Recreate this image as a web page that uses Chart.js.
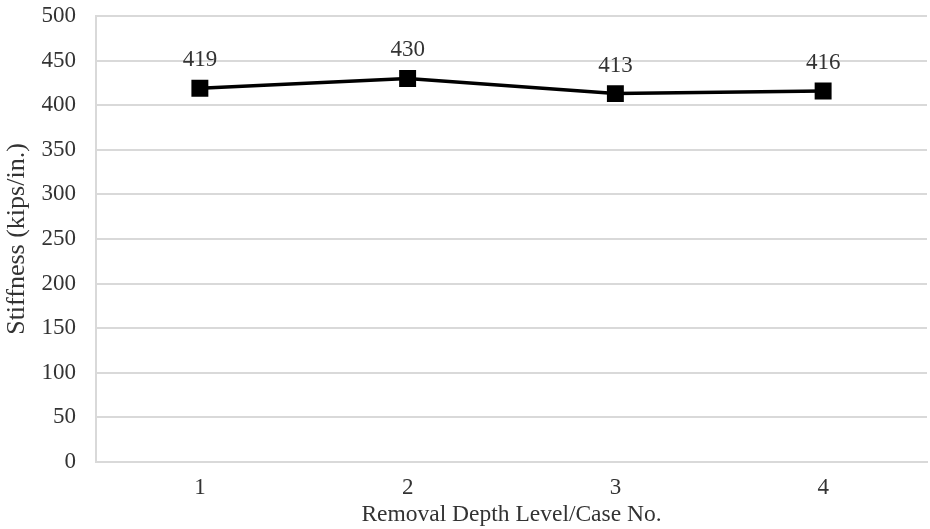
<!DOCTYPE html>
<html><head><meta charset="utf-8">
<script src="https://cdn.jsdelivr.net/npm/chart.js@4/dist/chart.umd.min.js"></script>
<style>html,body{margin:0;padding:0;background:#fff;}#wrap{width:930px;height:529px;}</style>
</head><body><div id="wrap"><canvas id="c"></canvas></div>
<script>
const categories = ['1', '2', '3', '4'];
const stiffness = [419, 430, 413, 416];
const yTicks = [0, 50, 100, 150, 200, 250, 300, 350, 400, 450, 500];

const FONT = "'Liberation Serif', 'Times New Roman', serif";
const TXT = '#333333';

const labelPlugin = {
  id: 'pointLabels',
  afterDatasetsDraw(chart) {
    const ctx = chart.ctx;
    const meta = chart.getDatasetMeta(0);
    ctx.save();
    ctx.font = "23px " + FONT;
    ctx.fillStyle = TXT;
    ctx.textAlign = 'center';
    ctx.textBaseline = 'alphabetic';
    meta.data.forEach((pt, i) => {
      ctx.fillText(String(stiffness[i]), pt.x, pt.y - 22);
    });
    ctx.restore();
  }
};

new Chart(document.getElementById('c'), {
  type: 'line',
  data: {
    labels: categories,
    datasets: [{
      data: stiffness,
      borderColor: '#000',
      backgroundColor: '#000',
      borderWidth: 3.5,
      pointStyle: 'rect',
      pointRadius: 9.5,
      pointHoverRadius: 9.5,
      pointBackgroundColor: '#000',
      pointBorderColor: '#000',
      tension: 0,
      clip: false
    }]
  },
  options: {
    responsive: true,
    maintainAspectRatio: false,
    animation: false,
    devicePixelRatio: 1,
    layout: { autoPadding: false, padding: { left: 2, right: 3, top: 16, bottom: 0 } },
    plugins: { legend: { display: false }, tooltip: { enabled: false } },
    scales: {
      x: {
        offset: true,
        afterFit(axis) { axis.height = 67; },
        grid: { display: false, drawTicks: false },
        border: { display: true, color: '#d9d9d9', width: 2 },
        ticks: { color: TXT, font: { family: FONT, size: 23 }, padding: 12 },
        title: { display: true, text: 'Removal Depth Level/Case No.', color: TXT, font: { family: FONT, size: 23.5 }, padding: { top: 0, bottom: 0 } }
      },
      y: {
        min: 0, max: 500,
        afterBuildTicks(axis) { axis.ticks = yTicks.map(v => ({ value: v })); },
        afterFit(axis) { axis.width = 94; axis.paddingTop = 0; axis.paddingBottom = 0; },
        grid: { color: '#d9d9d9', lineWidth: 2, drawTicks: false },
        border: { display: true, color: '#d9d9d9', width: 2 },
        ticks: { color: TXT, font: { family: FONT, size: 23 }, padding: 20 },
        title: { display: true, text: 'Stiffness (kips/in.)', color: TXT, font: { family: FONT, size: 26 }, padding: { top: 0, bottom: 0 } }
      }
    }
  },
  plugins: [labelPlugin]
});
</script>
</body></html>
